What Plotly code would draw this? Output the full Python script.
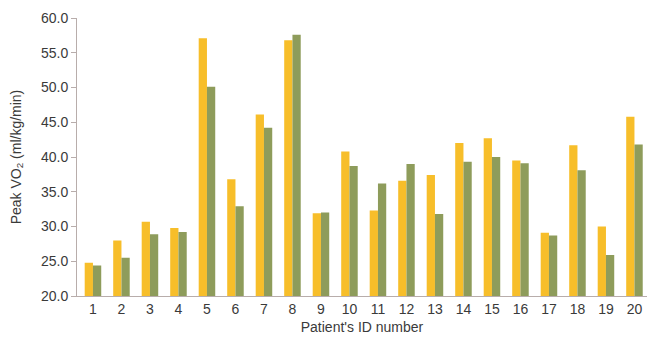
import plotly.graph_objects as go

patients = [str(i) for i in range(1, 21)]
series_a = [24.8, 28.0, 30.7, 29.8, 57.1, 36.8, 46.1, 56.8, 31.9, 40.8,
            32.3, 36.6, 37.4, 42.0, 42.7, 39.5, 29.1, 41.7, 30.0, 45.8]
series_b = [24.4, 25.5, 28.9, 29.2, 50.1, 32.9, 44.2, 57.6, 32.0, 38.7,
            36.2, 39.0, 31.8, 39.3, 40.0, 39.1, 28.7, 38.1, 25.9, 41.8]
y_ticks = [20, 25, 30, 35, 40, 45, 50, 55, 60]

font = "Liberation Sans, Arial, sans-serif"
axis_col = "#b8adab"
text_col = "#3a3a3a"

fig = go.Figure()
fig.add_trace(go.Bar(x=patients, y=series_a, marker_color="#F7BE2A", marker_line_width=0, name="A"))
fig.add_trace(go.Bar(x=patients, y=series_b, marker_color="#8E9C5B", marker_line_width=0, name="B"))

fig.update_layout(
    width=647, height=340,
    margin=dict(l=77, r=0, t=18, b=44),
    paper_bgcolor="white", plot_bgcolor="white",
    barmode="group", bargap=0.42, bargroupgap=0,
    showlegend=False,
    font=dict(family=font, size=14, color=text_col),
)
fig.update_xaxes(
    type="category", range=[-0.56, 19.44],
    showline=True, linecolor=axis_col, linewidth=1,
    ticks="", showgrid=False,
    tickfont=dict(size=14, color=text_col),
    title=dict(text="Patient's ID number", font=dict(size=14, color=text_col), standoff=6),
)
fig.update_yaxes(
    range=[20, 60], tickvals=y_ticks, tickformat=".1f",
    showline=True, linecolor=axis_col, linewidth=1,
    ticks="outside", ticklen=5, tickcolor=axis_col,
    showgrid=False, zeroline=False,
    tickfont=dict(size=14, color=text_col),
    title=dict(text="Peak VO<sub>2</sub> (ml/kg/min)", font=dict(size=14, color=text_col), standoff=16),
)

fig.write_html("out.html")
